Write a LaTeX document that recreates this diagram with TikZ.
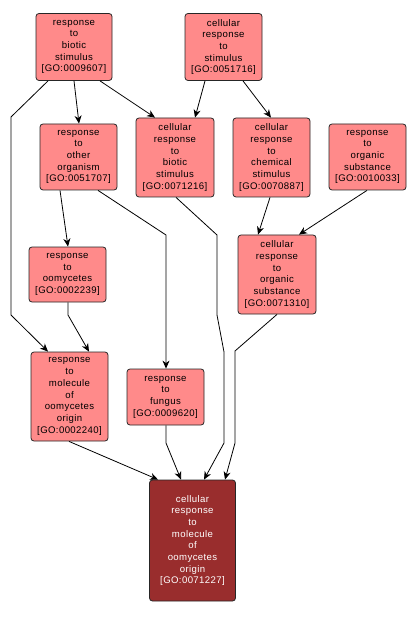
\documentclass[tikz,border=0pt]{standalone}
\usepackage{fontspec}
\setmainfont{Liberation Sans}[LetterSpace=4]
\usetikzlibrary{arrows.meta}
\definecolor{boxfill}{HTML}{FF8A8A}
\definecolor{goalfill}{HTML}{992D2D}
\tikzset{
  gobox/.style={draw=black!85, fill=boxfill, rounded corners=3pt, line width=0.8pt,
    align=center, inner sep=0pt, font=\fontsize{9.6}{11.7}\selectfont},
  goalbox/.style={gobox, fill=goalfill, text=white},
  arr/.style={draw=black, line width=0.8pt, -{Stealth[length=8pt,width=7pt,inset=2.5pt]}}
}
\begin{document}
\begin{tikzpicture}[x=1pt,y=-1pt]
\useasboundingbox (0,0) rectangle (417,617);
\node[gobox, minimum width=76pt, minimum height=67pt] (A) at (74,47) {response\\to\\biotic\\stimulus\\{[GO:0009607]}};
\node[gobox, minimum width=77pt, minimum height=67pt] (B) at (223.5,47) {cellular\\response\\to\\stimulus\\{[GO:0051716]}};
\node[gobox, minimum width=77pt, minimum height=66pt] (C) at (78.5,157) {response\\to\\other\\organism\\{[GO:0051707]}};
\node[gobox, minimum width=78pt, minimum height=79pt] (D) at (175,157.5) {cellular\\response\\to\\biotic\\stimulus\\{[GO:0071216]}};
\node[gobox, minimum width=77pt, minimum height=79pt] (E) at (271.5,157.5) {cellular\\response\\to\\chemical\\stimulus\\{[GO:0070887]}};
\node[gobox, minimum width=77pt, minimum height=66pt] (F) at (367.5,157) {response\\to\\organic\\substance\\{[GO:0010033]}};
\node[gobox, minimum width=77pt, minimum height=55pt] (G) at (67.5,274.5) {response\\to\\oomycetes\\{[GO:0002239]}};
\node[gobox, minimum width=78pt, minimum height=79pt] (H) at (277,274.5) {cellular\\response\\to\\organic\\substance\\{[GO:0071310]}};
\node[gobox, minimum width=77pt, minimum height=89pt] (I) at (69.5,396.5) {response\\to\\molecule\\of\\oomycetes\\origin\\{[GO:0002240]}};
\node[gobox, minimum width=77pt, minimum height=56pt] (J) at (165.5,397) {response\\to\\fungus\\{[GO:0009620]}};
\node[goalbox, minimum width=86pt, minimum height=121pt] (K) at (192.5,540.5) {cellular\\response\\to\\molecule\\of\\oomycetes\\origin\\{[GO:0071227]}};

\draw[arr] ([xshift=-26pt]A.south) -- (11,117) -- (11,315) -- ([xshift=-21.5pt]I.north);
\draw[arr] (A.south) -- ([xshift=0.5pt]C.north);
\draw[arr] ([xshift=26pt]A.south) -- ([xshift=-20pt]D.north);
\draw[arr] ([xshift=-18.5pt]B.south) -- ([xshift=20pt]D.north);
\draw[arr] ([xshift=19.5pt]B.south) -- ([xshift=-0.5pt]E.north);
\draw[arr] ([xshift=-18.5pt]C.south) -- ([xshift=0.5pt]G.north);
\draw[arr] ([xshift=19.5pt]C.south) -- (166,235) -- ([xshift=0.5pt]J.north);
\draw[arr] ([xshift=1pt]D.south) -- (217,235) -- (217,315) -- (224,352) -- (224,443) -- ([xshift=11.5pt]K.north);
\draw[arr] (H.south) -- (235,351) -- (235,443) -- ([xshift=32.5pt]K.north);
\draw[arr] ([xshift=-1.5pt]E.south) -- ([xshift=-19pt]H.north);
\draw[arr] ([xshift=-0.5pt]F.south) -- ([xshift=22pt]H.north);
\draw[arr] ([xshift=0.5pt]G.south) -- (68,315) -- ([xshift=19.5pt]I.north);
\draw[arr] ([xshift=-0.5pt]I.south) -- ([xshift=-34.5pt]K.north);
\draw[arr] ([xshift=0.5pt]J.south) -- (166,443) -- ([xshift=-11.5pt]K.north);
\end{tikzpicture}
\end{document}
